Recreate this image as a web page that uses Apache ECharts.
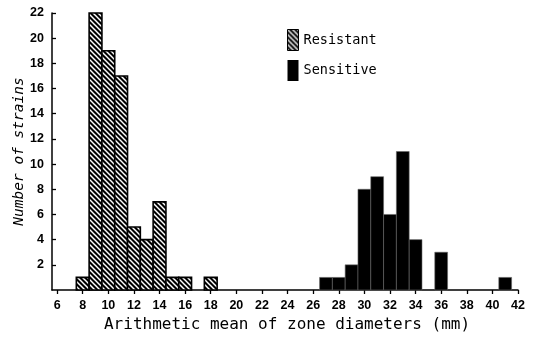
<!DOCTYPE html>
<html>
<head>
<meta charset="utf-8">
<script src="https://cdn.jsdelivr.net/npm/echarts@6/dist/echarts.min.js"></script>
<style>
html,body{margin:0;padding:0;background:#fff;}
#chart{width:534px;height:338px;}
</style>
</head>
<body>
<div id="chart"></div>
<script>
// ---- data ----
var resistantX = [8, 9, 10, 11, 12, 13, 14, 15, 16, 18];
var resistantN = [1, 22, 19, 17, 5, 4, 7, 1, 1, 1];
var sensitiveX = [27, 28, 29, 30, 31, 32, 33, 34, 36, 41];
var sensitiveN = [1, 1, 2, 8, 9, 6, 11, 4, 3, 1];
var xTicks = [6, 8, 10, 12, 14, 16, 18, 20, 22, 24, 26, 28, 30, 32, 34, 36, 38, 40, 42];
var yTicks = [2, 4, 6, 8, 10, 12, 14, 16, 18, 20, 22];

// hatch pattern (white diagonal stripes on black)
var T = 5;
var tile = document.createElement('canvas');
tile.width = T; tile.height = T;
var c = tile.getContext('2d');
c.fillStyle = '#000';
c.fillRect(0, 0, T, T);
c.strokeStyle = '#fff';
c.lineWidth = 1.5;
for (var k = -T; k <= T; k += T) {
  c.beginPath();
  c.moveTo(k - 1, -1);
  c.lineTo(k + T + 1, T + 1);
  c.stroke();
}
var hatch = {image: tile, repeat: 'repeat'};

function pairs(xs, ys) {
  return xs.map(function (x, i) { return [x, ys[i]]; });
}

function makeRender(fill, stroke, lw) {
  return function (params, api) {
    var x = api.value(0), y = api.value(1);
    var p0 = api.coord([x - 0.5, y]);
    var p1 = api.coord([x + 0.5, 0]);
    return {
      type: 'rect',
      shape: {x: p0[0], y: p0[1], width: p1[0] - p0[0], height: p1[1] - p0[1]},
      style: {fill: fill, stroke: stroke, lineWidth: lw}
    };
  };
}

var chart = echarts.init(document.getElementById('chart'), null, {renderer: 'canvas'});
var mono = '"DejaVu Sans Mono", "Liberation Mono", monospace';
chart.setOption({
  animation: false,
  backgroundColor: '#fff',
  grid: {left: 52, right: 16, top: 13, bottom: 48, containLabel: false, outerBoundsMode: 'none'},
  legend: {
    orient: 'vertical',
    left: 282, top: 24,
    itemWidth: 11, itemHeight: 21, itemGap: 9,
    icon: 'rect',
    textStyle: {fontFamily: mono, fontSize: 13.5, color: '#000', padding: [0, 0, 0, 0]},
    data: [
      {name: 'Resistant', itemStyle: {color: hatch, borderColor: '#000', borderWidth: 1}},
      {name: 'Sensitive', itemStyle: {color: '#000'}}
    ]
  },
  xAxis: {
    type: 'value',
    min: 5.6, max: 42,
    name: 'Arithmetic mean of zone diameters (mm)',
    nameLocation: 'middle',
    nameGap: 27,
    nameMoveOverlap: false,
    nameTextStyle: {fontFamily: mono, fontSize: 16, color: '#000', padding: [0, 0, 0, 4]},
    splitLine: {show: false},
    axisLine: {lineStyle: {color: '#000', width: 1.5}},
    axisTick: {show: true, inside: false, length: 4, customValues: xTicks, lineStyle: {color: '#000', width: 1.3}},
    axisLabel: {customValues: xTicks, margin: 9, fontFamily: 'Liberation Sans', fontWeight: 'bold', fontSize: 12.5, color: '#000'}
  },
  yAxis: {
    type: 'value',
    min: 0, max: 22,
    name: 'Number of strains',
    nameLocation: 'middle',
    nameGap: 25,
    nameMoveOverlap: false,
    nameTextStyle: {fontFamily: mono, fontSize: 14.5, fontStyle: 'italic', color: '#000'},
    splitLine: {show: false},
    axisLine: {show: true, lineStyle: {color: '#000', width: 1.5}},
    axisTick: {show: true, inside: true, length: 4, customValues: yTicks, lineStyle: {color: '#000', width: 1.3}},
    axisLabel: {customValues: yTicks, margin: 8, fontFamily: 'Liberation Sans', fontWeight: 'bold', fontSize: 12.5, color: '#000'}
  },
  series: [
    {
      name: 'Resistant',
      type: 'custom',
      itemStyle: {color: hatch, borderColor: '#000', borderWidth: 1},
      renderItem: makeRender(hatch, '#000', 1.6),
      encode: {x: 0, y: 1},
      data: pairs(resistantX, resistantN)
    },
    {
      name: 'Sensitive',
      type: 'custom',
      itemStyle: {color: '#000'},
      renderItem: makeRender('#000', '#666', 0.6),
      encode: {x: 0, y: 1},
      data: pairs(sensitiveX, sensitiveN)
    }
  ]
});
</script>
</body>
</html>
